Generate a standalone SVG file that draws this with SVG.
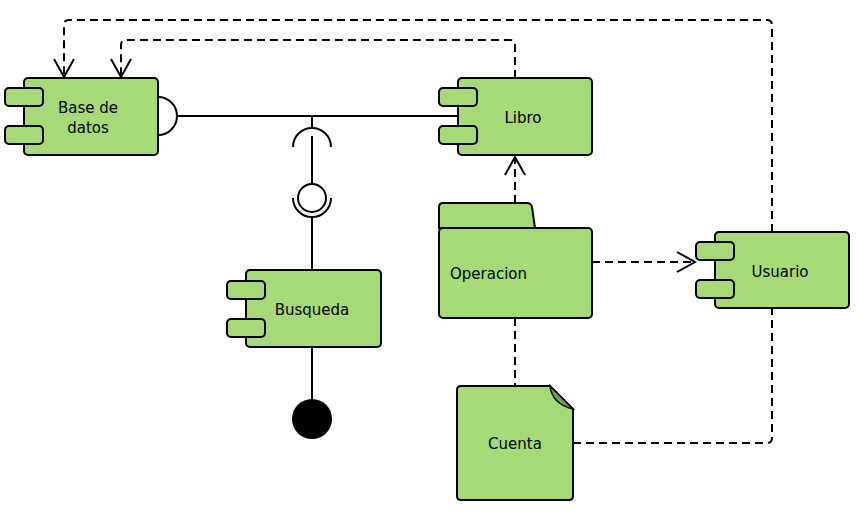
<svg xmlns="http://www.w3.org/2000/svg" width="860" height="518" viewBox="0 0 860 518">
<defs>
<style>
.body{fill:#a6d977;stroke:#000;stroke-width:2}
.tab{fill:#a6d977;stroke:#000;stroke-width:2}
.lbl{font-family:"DejaVu Sans",sans-serif;font-size:15px;fill:#000}
.solid{fill:none;stroke:#000;stroke-width:2}
.dash{fill:none;stroke:#000;stroke-width:2;stroke-dasharray:8 5}
</style>
<marker id="open" markerUnits="userSpaceOnUse" markerWidth="24" markerHeight="24" viewBox="-20 -12 24 24" refX="0" refY="0" orient="auto">
<path d="M-18,-10 L0,0 L-18,10" fill="none" stroke="#000" stroke-width="2"/>
</marker>
</defs>
<rect width="860" height="518" fill="#fff"/>
<g id="connectors">
<path class="solid" d="M158,97 A19,19 0 0 1 158,135"/>
<line class="solid" x1="177" y1="116" x2="458" y2="116"/>
<line class="solid" x1="312" y1="116" x2="312" y2="129"/>
<path class="solid" d="M293,147 A19,19 0 0 1 331,147"/>
<line class="solid" x1="312" y1="136" x2="312" y2="184" stroke-width="3"/>
<circle cx="312" cy="198" r="14" fill="#fff" stroke="#000" stroke-width="2"/>
<path class="solid" d="M293,198 A19,19 0 0 0 331,198"/>
<line class="solid" x1="312" y1="217" x2="312" y2="270"/>
<line class="solid" x1="312" y1="347" x2="312" y2="400"/>
<circle cx="312" cy="419" r="20" fill="#000"/>
<path class="dash" d="M515,203 L515,157" marker-end="url(#open)"/>
<path class="dash" d="M592,262 L695,262" marker-end="url(#open)"/>
<path class="dash" d="M515,78 L515,45 Q515,40 510,40 L126,40 Q121,40 121,45 L121,77" marker-end="url(#open)"/>
<path class="dash" d="M772,232 L772,25 Q772,20 767,20 L69,20 Q64,20 64,25 L64,77" marker-end="url(#open)"/>
<path class="dash" d="M515,318 L515,386"/>
<path class="dash" d="M573,443 L767,443 Q772,443 772,438 L772,308"/>
</g>
<g id="base-de-datos">
<rect class="body" x="24" y="78" width="134" height="77" rx="4"/>
<rect class="tab" x="5" y="88" width="38" height="18" rx="4"/>
<rect class="tab" x="5" y="126" width="38" height="18" rx="4"/>
<text class="lbl" x="88" y="113" text-anchor="middle">Base de</text>
<text class="lbl" x="88" y="133" text-anchor="middle">datos</text>
</g>
<g id="libro">
<rect class="body" x="458" y="78" width="134" height="77" rx="4"/>
<rect class="tab" x="439" y="88" width="38" height="18" rx="4"/>
<rect class="tab" x="439" y="126" width="38" height="18" rx="4"/>
<text class="lbl" x="523" y="123" text-anchor="middle">Libro</text>
</g>
<g id="busqueda">
<rect class="body" x="246" y="270" width="135" height="77" rx="4"/>
<rect class="tab" x="227" y="281" width="38" height="18" rx="4"/>
<rect class="tab" x="227" y="319" width="38" height="18" rx="4"/>
<text class="lbl" x="312" y="315" text-anchor="middle">Busqueda</text>
</g>
<g id="operacion">
<path class="body" d="M439,228 L439,207 Q439,203 443,203 L527,203 Q531,203 532,207 L535,228 Z"/>
<rect class="body" x="439" y="228" width="153" height="90" rx="4"/>
<text class="lbl" x="450" y="279">Operacion</text>
</g>
<g id="usuario">
<rect class="body" x="715" y="232" width="134" height="76" rx="4"/>
<rect class="tab" x="696" y="242" width="38" height="18" rx="4"/>
<rect class="tab" x="696" y="280" width="38" height="18" rx="4"/>
<text class="lbl" x="780" y="277" text-anchor="middle">Usuario</text>
</g>
<g id="cuenta">
<path class="body" d="M461,386 L550,386 L573,409 L573,496 Q573,500 569,500 L461,500 Q457,500 457,496 L457,390 Q457,386 461,386 Z"/>
<path d="M550,386 Q552,404 573,409 Z" fill="#6f9e4f" stroke="#000" stroke-width="1.5"/>
<text class="lbl" x="515" y="449" text-anchor="middle">Cuenta</text>
</g>
</svg>
